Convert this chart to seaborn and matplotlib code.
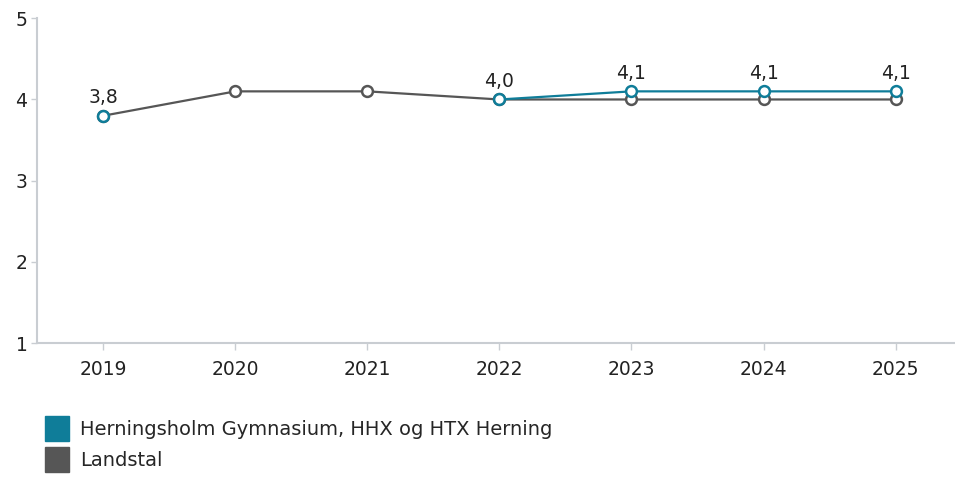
import matplotlib
matplotlib.use("Agg")
import matplotlib.pyplot as plt
from matplotlib.patches import Patch
import numpy as np
import pandas as pd
import seaborn as sns

years = ["2019", "2020", "2021", "2022", "2023", "2024", "2025"]
school_name = "Herningsholm Gymnasium, HHX og HTX Herning"
school_vals = [3.8, np.nan, np.nan, 4.0, 4.1, 4.1, 4.1]
national_name = "Landstal"
national_vals = [3.8, 4.1, 4.1, 4.0, 4.0, 4.0, 4.0]
y_ticks = [1, 2, 3, 4, 5]

blue = "#0f7d99"
grey = "#565656"
axis_col = "#c9cdd2"
text_col = "#222222"

sns.set_style("white", {"xtick.bottom": True, "ytick.left": True})
plt.rcParams["font.family"] = ["DejaVu Sans"]


def to_frame(vals):
    # split series into contiguous segments so NaN breaks the line
    rows, seg = [], 0
    for i, v in enumerate(vals):
        if np.isnan(v):
            seg += 1
            continue
        rows.append({"x": i, "value": v, "seg": seg})
    return pd.DataFrame(rows)


nat_df = to_frame(national_vals)
sch_df = to_frame(school_vals)

fig = plt.figure(figsize=(9.55, 4.8), dpi=100)
ax = fig.add_axes([0.039, 0.285, 0.961, 0.677])

marker_kw = dict(marker="o", markersize=7.8, markerfacecolor="white",
                 markeredgewidth=1.8, linewidth=1.6)

sns.lineplot(data=nat_df, x="x", y="value", units="seg", estimator=None,
             color=grey, markeredgecolor=grey, ax=ax, **marker_kw)
sns.lineplot(data=sch_df, x="x", y="value", units="seg", estimator=None,
             color=blue, markeredgecolor=blue, ax=ax, **marker_kw)

for i, v in enumerate(school_vals):
    if np.isnan(v):
        continue
    ax.annotate(f"{v:.1f}".replace(".", ","), (i, v), xytext=(0, 6),
                textcoords="offset points", ha="center", va="bottom",
                fontsize=13.5, color=text_col)

ax.set_xlim(-0.5, 6.45)
ax.set_ylim(1, 5)
ax.set_xticks(range(len(years)))
ax.set_xticklabels(years)
ax.set_yticks(y_ticks)
ax.set_xlabel("")
ax.set_ylabel("")

for s in ["top", "right"]:
    ax.spines[s].set_visible(False)
for s in ["left", "bottom"]:
    ax.spines[s].set_color(axis_col)
    ax.spines[s].set_linewidth(1.5)

ax.tick_params(axis="x", length=5, width=1, color=axis_col, labelsize=13.5,
               labelcolor=text_col, pad=7)
ax.tick_params(axis="y", length=4, width=1, color=axis_col, labelsize=13.5,
               labelcolor=text_col, pad=3)

handles = [Patch(facecolor=blue, edgecolor=blue), Patch(facecolor=grey, edgecolor=grey)]
fig.legend(handles, [school_name, national_name], loc="upper left",
           bbox_to_anchor=(0.047, 0.133), frameon=False, fontsize=14,
           handlelength=1.25, handleheight=1.6, handletextpad=0.55,
           labelspacing=0.3, borderaxespad=0, borderpad=0)

fig.savefig("out.png", dpi=100)
